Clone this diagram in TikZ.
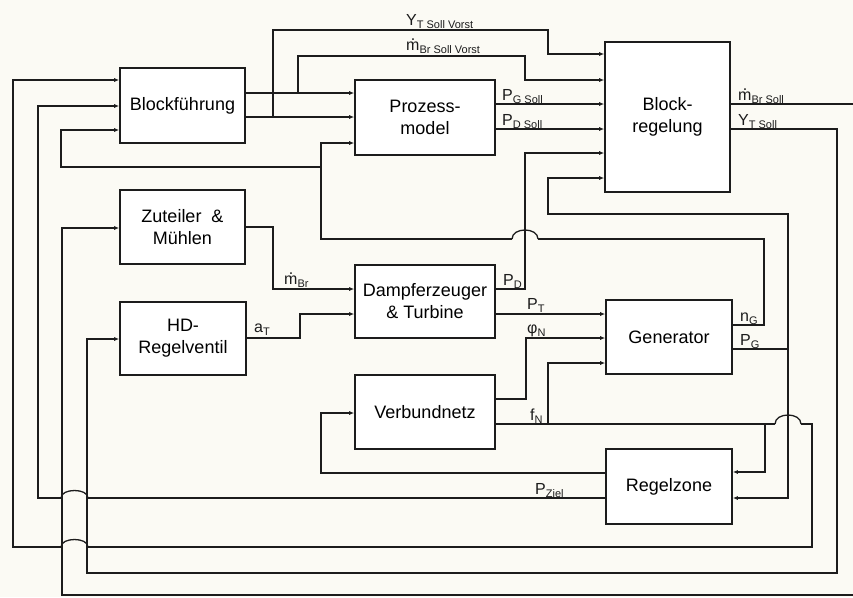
\documentclass[tikz,border=0pt]{standalone}
\usepackage{fontspec}
\setmainfont{Liberation Sans}
\usetikzlibrary{arrows.meta}
\definecolor{paper}{RGB}{251,250,244}
\definecolor{ink}{RGB}{28,28,28}
\newcommand{\sbs}[1]{\raisebox{-0.45ex}{\fontsize{11}{12}\selectfont #1}}
\newcommand{\mdot}{\makebox[0pt][l]{\hspace{0.29em}\raisebox{0.57em}{.}}m}
\tikzset{
	block/.style={draw=ink, line width=1.6pt, fill=white, inner sep=0pt, align=center,
		minimum width=125pt, minimum height=75pt, font=\fontsize{18}{22}\selectfont},
	wire/.style={draw=ink, line width=1.3pt},
	sig/.style={wire, -{Latex[length=5pt,width=4pt]}},
	lbl/.style={inner sep=0pt, anchor=base west, text=ink, font=\fontsize{16}{18}\selectfont}
}

\begin{document}
\begin{tikzpicture}[x=1pt, y=-1pt]
		%%%%% START %%%%%
		
		\fill[paper] (0,0) rectangle (853,597);
		\useasboundingbox (0,0) rectangle (853,597);
		
		\node[block] (bf) at (182.5,105.5) {Blockführung};
		\node[block, minimum width=140pt] (pm) at (425,117.5) {Prozess-\\model};
		\node[block, minimum height=150pt] (br) at (667.5,117) {Block-\\regelung};
		\node[block, minimum height=74pt] (zm) at (182.5,227) {Zuteiler \ \&\\Mühlen};
		\node[block, minimum width=126pt, minimum height=73pt] (hd) at (183,338.5) {HD-\\Regelventil};
		\node[block, minimum width=140pt, minimum height=73pt] (dt) at (425,301.5) {Dampferzeuger\\\& Turbine};
		\node[block, minimum width=126pt, minimum height=74pt] (gen) at (669,337) {Generator};
		\node[block, minimum width=140pt, minimum height=74pt] (vn) at (425,412) {Verbundnetz};
		\node[block, minimum width=126pt] (rz) at (669,486.5) {Regelzone};
		
		\coordinate (jY) at (273,117);
		\coordinate (jm) at (298,93);
		\coordinate (jnG) at (321,167);
		\coordinate (jPG) at (788,349);
		\coordinate (jf1) at (548,424);
		\coordinate (jf2) at (765,424);
		\coordinate (outR) at (853,104);
		\coordinate (inR) at (853,595);
		
		% Blockfuehrung
		\draw[sig] (bf.east|-jm) -- (pm.west|-jm);
		\draw[sig] (bf.east|-jY) -- (pm.west|-jY);
		\draw[sig] (jm) -- (298,56) -- (525,56) -- (525,80) -- (br.west|-0,80);
		\draw[sig] (jY) -- (273,30) -- (548,30) -- (548,54) -- (br.west|-0,54);
		
		% Prozessmodel
		\draw[sig] (pm.east|-0,104) -- (br.west|-0,104);
		\draw[sig] (pm.east|-0,129) -- (br.west|-0,129);
		
		% Zuteiler, HD-Regelventil
		\draw[sig] (zm.east|-0,227) -- (273,227) -- (273,289) -- (dt.west|-0,289);
		\draw[sig] (hd.east|-0,338) -- (300,338) -- (300,314) -- (dt.west|-0,314);
		
		% Dampferzeuger
		\draw[sig] (dt.east|-0,289) -- (525,289) -- (525,153) -- (br.west|-0,153);
		\draw[sig] (dt.east|-0,314) -- (gen.west|-0,314);
		
		% Generator (hop over P_D)
		\draw[wire] (gen.east|-0,325) -- (764,325) -- (764,239) -- (538,239);
		\draw[wire] (538,239) .. controls (538,227) and (512,227) .. (512,239);
		\draw[sig] (512,239) -- (321,239) -- (321,143) -- (pm.west|-0,143);
		\draw[sig] (jnG) -- (61,167) -- (61,130) -- (bf.west|-0,130);
		\draw[wire] (gen.east|-jPG) -- (jPG);
		\draw[sig] (jPG) -- (788,214) -- (548,214) -- (548,178) -- (br.west|-0,178);
		\draw[sig] (jPG) -- (788,498) -- (rz.east|-0,498);
		
		% Verbundnetz (hops over P_G and the left returns)
		\draw[sig] (vn.east|-0,399) -- (526,399) -- (526,338) -- (gen.west|-0,338);
		\draw[wire] (vn.east|-jf1) -- (775,424);
		\draw[wire] (775,424) .. controls (775,412) and (801,412) .. (801,424);
		\draw[wire] (801,424) -- (812,424) -- (812,547) -- (88,547);
		\draw[wire] (88,547) .. controls (88,537) and (61,537) .. (61,547);
		\draw[sig] (61,547) -- (13,547) -- (13,80) -- (bf.west|-0,80);
		\draw[sig] (jf1) -- (548,363) -- (gen.west|-0,363);
		\draw[sig] (jf2) -- (765,472) -- (rz.east|-0,472);
		
		% Regelzone
		\draw[sig] (rz.west|-0,473) -- (321,473) -- (321,413) -- (vn.west|-0,413);
		\draw[wire] (rz.west|-0,498) -- (88,498);
		\draw[wire] (88,498) .. controls (88,488) and (61,488) .. (61,498);
		\draw[sig] (61,498) -- (38,498) -- (38,106) -- (bf.west|-0,106);
		
		% Blockregelung
		\draw[sig] (br.east|-0,129) -- (837,129) -- (837,573) -- (87,573) -- (87,339) -- (hd.west|-0,339);
		\draw[wire] (br.east|-outR) -- (outR);
		\draw[sig] (inR) -- (62,595) -- (62,228) -- (zm.west|-0,228);
		
		% labels
		\node[lbl] (lYv) at (406,25) {Y\sbs{T Soll Vorst}};
		\node[lbl] (lmv) at (406,50) {\mdot\sbs{Br Soll Vorst}};
		\node[lbl] (lPGs) at (502,100) {P\sbs{G Soll}};
		\node[lbl] (lPDs) at (502,125) {P\sbs{D Soll}};
		\node[lbl] (lms) at (738,100) {\mdot\sbs{Br Soll}};
		\node[lbl] (lYs) at (738,125) {Y\sbs{T Soll}};
		\node[lbl] (lm) at (284,284) {\mdot\sbs{Br}};
		\node[lbl] (laT) at (254,332) {a\sbs{T}};
		\node[lbl] (lPD) at (503,285) {P\sbs{D}};
		\node[lbl] (lPT) at (527,309) {P\sbs{T}};
		\node[lbl] (lphi) at (527,333) {φ\sbs{N}};
		\node[lbl] (lnG) at (740,321) {n\sbs{G}};
		\node[lbl] (lPG) at (740,345) {P\sbs{G}};
		\node[lbl] (lfN) at (530,420) {f\sbs{N}};
		\node[lbl] (lPz) at (535,494) {P\sbs{Ziel}};
		
		%%%%% END %%%%%
	\end{tikzpicture}
\end{document}
